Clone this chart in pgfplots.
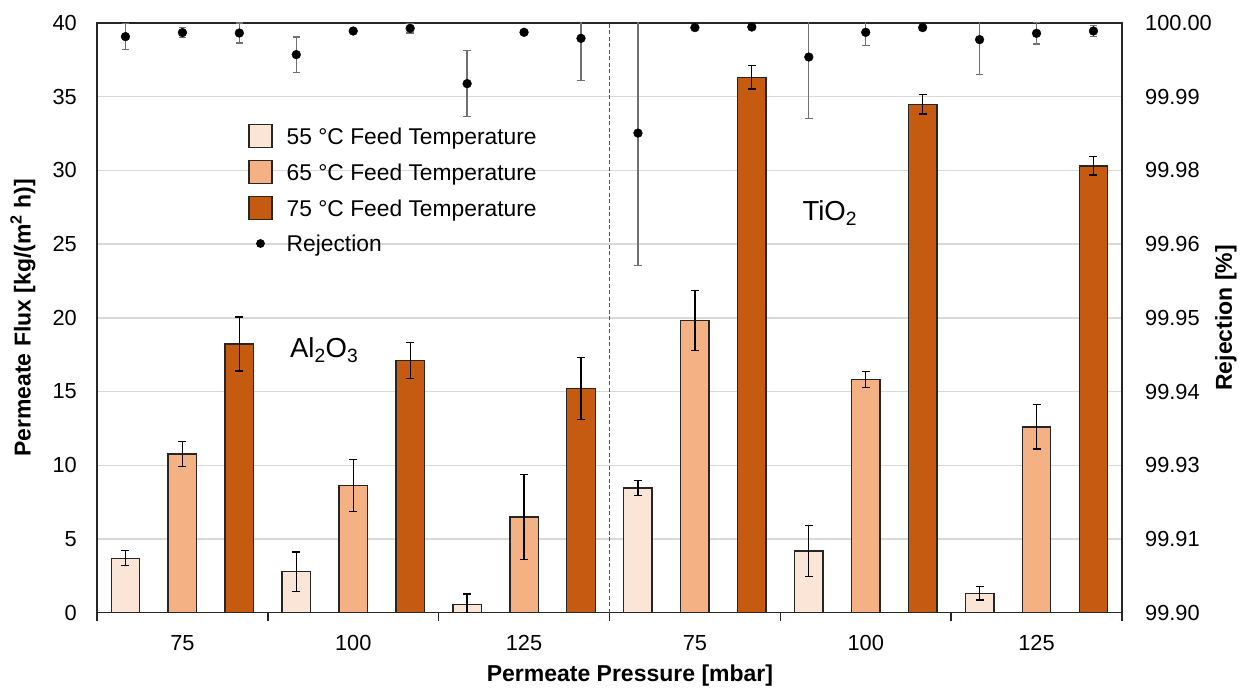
\documentclass[border=0pt]{standalone}
\usepackage{fontspec}
\setmainfont{Liberation Sans}
\usepackage{pgfplots}
\usepackage{pgfplotstable}
\pgfplotsset{compat=1.18}

\definecolor{t55}{HTML}{FBE5D6}
\definecolor{t65}{HTML}{F4B183}
\definecolor{t75}{HTML}{C55A11}
\definecolor{gridgray}{HTML}{D9D9D9}
\definecolor{sepline}{HTML}{44546A}
\definecolor{errgray}{HTML}{707070}

% permeate flux [kg/(m2 h)] and standard deviations; groups 0-2 Al2O3, 3-5 TiO2
\pgfplotstableread{
x   f55   e55   f65   e65   f75   e75
0   3.69  0.51  10.77 0.85  18.23 1.83
1   2.78  1.33  8.63  1.76  17.10 1.22
2   0.57  0.70  6.48  2.88  15.22 2.10
3   8.45  0.52  19.83 2.03  36.31 0.79
4   4.18  1.72  15.81 0.54  34.49 0.66
5   1.31  0.45  12.60 1.50  30.31 0.62
}\fluxdata

% rejection [%], one point above each bar
\pgfplotstableread{
x        r         er
-0.3333  99.99769  0.0022
0        99.99837  0.00085
0.3333   99.99830  0.0017
0.6667   99.99464  0.0030
1        99.99864  0.0002
1.3333   99.99910  0.0008
1.6667   99.98972  0.0056
2        99.99842  0.0002
2.3333   99.99740  0.0072
2.6667   99.98133  0.02245
3        99.99922  0.0002
3.3333   99.99932  0.0002
3.6667   99.99423  0.01046
4        99.99842  0.0022
4.3333   99.99922  0.0002
4.6667   99.99718  0.0059
5        99.99825  0.0018
5.3333   99.99864  0.0009
}\rejdata

\pgfplotsset{
  common/.style={
    at={(0pt,0pt)}, anchor=south west,
    scale only axis, width=1025pt, height=589.7pt,
    xmin=-0.5, xmax=5.5,
    axis line style={black!85, line width=1.5pt},
    major tick length=0pt,
    /pgf/number format/assume math mode=true,
    tick label style={font=\fontsize{21.8}{26}\selectfont},
  },
  barstyle/.style={draw=black!85, line width=1.4pt, bar width=28.5pt},
}

\begin{document}
\begin{tikzpicture}[x=1pt,y=1pt]
\useasboundingbox (-97,-76.3) rectangle (1150,612.7);
\begin{axis}[
  common,
  ybar,
  ymin=0, ymax=40,
  ytick={0,5,...,40},
  ytick pos=left,
  xtick pos=bottom,
  ymajorgrids,
  grid style={gridgray, line width=1.3pt},
  xtick={0,1,2,3,4,5},
  xticklabels={75,100,125,75,100,125},
  minor xtick={-0.5,0.5,1.5,2.5,3.5,4.5,5.5},
  minor tick length=8pt,
  tick align=outside,
  minor tick style={black!85, line width=1.5pt},
  xticklabel style={anchor=base, inner sep=0pt, yshift=-38pt},
  yticklabel style={anchor=east, inner sep=0pt, xshift=-20pt},
  every axis y label/.style={at={(axis description cs:-0.0722,0.5)}, rotate=90, anchor=center},
  every axis x label/.style={at={(axis description cs:0.52,-0.1073)}, anchor=center},
  ylabel={\fontsize{23}{27}\selectfont\bfseries Permeate Flux [kg/(m\textsuperscript{2} h)]},
  xlabel={\fontsize{23}{27}\selectfont\bfseries Permeate Pressure [mbar]},
  error bars/y dir=both,
  error bars/y explicit,
  error bars/error bar style={black, line width=1.3pt},
  error bars/error mark options={black, rotate=90, mark size=4pt, line width=1.3pt},
  legend image code/.code={\draw[#1] (0pt,-11.5pt) rectangle (23pt,11.5pt);},
  legend style={at={(axis description cs:0.1474,0.8296)}, anchor=north west,
    draw=none, fill=none, inner sep=0pt, row sep=11.7pt,
    font=\fontsize{22.8}{27}\selectfont,
    nodes={inner sep=0pt, text depth=0pt}},
  legend cell align=left,
]
\addplot[barstyle, fill=t55, bar shift=-56.94pt] table[x=x, y=f55, y error=e55] {\fluxdata};
\addlegendentry{\hspace{14pt}55 °C Feed Temperature}
\addplot[barstyle, fill=t65, bar shift=0pt] table[x=x, y=f65, y error=e65] {\fluxdata};
\addlegendentry{\hspace{14pt}65 °C Feed Temperature}
\addplot[barstyle, fill=t75, bar shift=56.94pt] table[x=x, y=f75, y error=e75] {\fluxdata};
\addlegendentry{\hspace{14pt}75 °C Feed Temperature}
\addlegendimage{legend image code/.code={\path[draw=none, fill=none] (0pt,-11.5pt) rectangle (23pt,11.5pt);\fill[black, draw=none] (11.5pt,0pt) circle (4.4pt);}}
\addlegendentry{\hspace{14pt}Rejection}

\draw[sepline, line width=1.1pt, dash pattern=on 4pt off 2.5pt] (axis cs:2.5,0) -- (axis cs:2.5,40);
\node[font=\fontsize{27.5}{32}\selectfont] at (axis cs:0.83,17.8) {Al\textsubscript{2}O\textsubscript{3}};
\node[font=\fontsize{27.5}{32}\selectfont] at (axis cs:3.79,27.1) {TiO\textsubscript{2}};
\end{axis}

\begin{axis}[
  common,
  ymin=99.9, ymax=100,
  axis x line=none,
  axis y line*=right,
  ytick={99.9,99.9125,99.925,99.9375,99.95,99.9625,99.975,99.9875,100},
  yticklabels={99.90,99.91,99.93,99.94,99.95,99.96,99.98,99.99,100.00},
  yticklabel style={anchor=west, inner sep=0pt, xshift=23pt},
  every axis y label/.style={at={(axis description cs:1.1015,0.5)}, rotate=90, anchor=center},
  ylabel={\fontsize{23}{27}\selectfont\bfseries Rejection [\%]},
  error bars/y dir=both,
  error bars/y explicit,
  error bars/error bar style={errgray, line width=1.3pt},
  error bars/error mark options={errgray, rotate=90, mark size=3.8pt, line width=1.3pt},
]
\addplot[only marks, mark=*, mark size=4.4pt, mark options={fill=black, draw=black}]
  table[x=x, y=r, y error=er] {\rejdata};
\end{axis}
\end{tikzpicture}
\end{document}
